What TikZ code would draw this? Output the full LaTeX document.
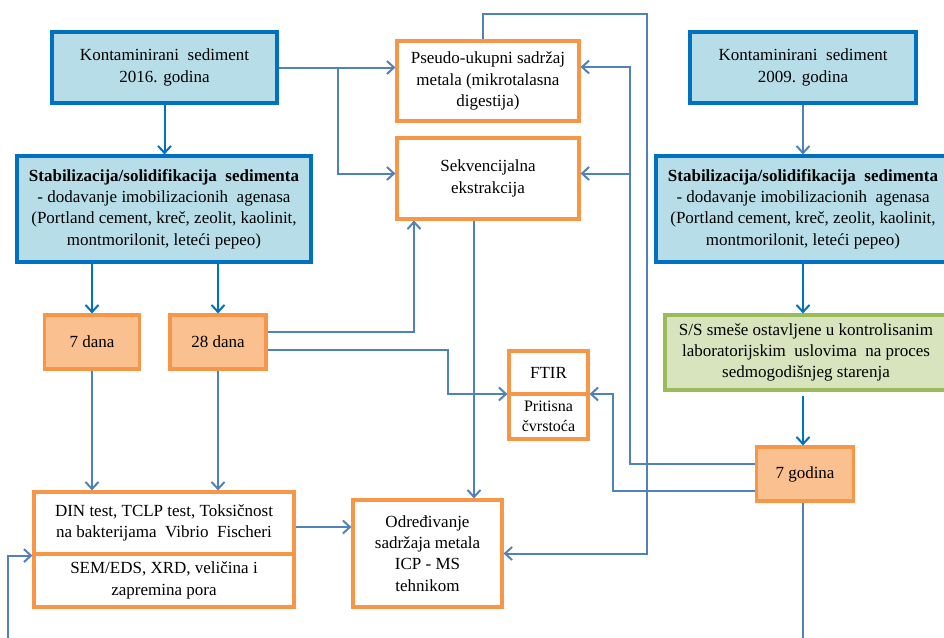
\documentclass[tikz,border=0pt]{standalone}
\usepackage{fontspec}
\setmainfont{Liberation Serif}
\usepackage{tikz}
\usetikzlibrary{arrows.meta}
\definecolor{dblue}{RGB}{0,112,192}
\definecolor{lblue}{RGB}{183,222,232}
\definecolor{dorange}{RGB}{247,150,70}
\definecolor{lorange}{RGB}{250,192,144}
\definecolor{dgreen}{RGB}{155,187,89}
\definecolor{lgreen}{RGB}{215,228,189}
\definecolor{lnblue}{RGB}{79,129,189}

\begin{document}
\begin{tikzpicture}[x=1pt, y=-1pt,
  every node/.style={align=center, inner sep=0pt, font=\fontsize{17}{21.3}\selectfont},
  bbox/.style={draw=dblue, fill=lblue, line width=3.2pt},
  obox/.style={draw=dorange, fill=lorange, line width=3.2pt},
  wbox/.style={draw=dorange, fill=white, line width=3.2pt},
  gbox/.style={draw=dgreen, fill=lgreen, line width=3.2pt},
  ln/.style={draw=lnblue, line width=2pt},
  lnk/.style={ln, -{Straight Barb[length=7pt,width=13pt]}},
  dlnk/.style={lnk, draw=dblue}]
\path[use as bounding box, clip] (0,0) rectangle (944,637);

\node[bbox, minimum width=225, minimum height=71] (ks1) at (164.5,67.5) {Kontaminirani\ \ sediment\\2016. godina};
\node[bbox, minimum width=294, minimum height=106] (stab1) at (164,209) {\textbf{Stabilizacija/solidifikacija\ \ sedimenta}\\- dodavanje imobilizacionih\ \ agenasa\\(Portland cement, kreč, zeolit, kaolinit,\\montmorilonit, leteći pepeo)};
\node[bbox, minimum width=226, minimum height=71] (ks2) at (803,67.5) {Kontaminirani\ \ sediment\\2009. godina};
\node[bbox, minimum width=294, minimum height=106] (stab2) at (803,209) {\textbf{Stabilizacija/solidifikacija\ \ sedimenta}\\- dodavanje imobilizacionih\ \ agenasa\\(Portland cement, kreč, zeolit, kaolinit,\\montmorilonit, leteći pepeo)};
\node[obox, minimum width=95, minimum height=54] (dan7) at (92,342) {7 dana};
\node[obox, minimum width=96, minimum height=54] (dan28) at (218,342) {28 dana};
\node[wbox, minimum width=260, minimum height=62] (din) at (164,523) {DIN test, TCLP test, Toksičnost\\na bakterijama\ \ Vibrio\ \ Fischeri};
\node[wbox, minimum width=260, minimum height=53] (sem) at (164,580.5) {SEM/EDS, XRD, veličina i\\zapremina pora};
\node[wbox, minimum width=149, minimum height=107] (odr) at (427.5,553.5) {Određivanje\\sadržaja metala\\ICP - MS\\tehnikom};
\node[wbox, minimum width=182, minimum height=80] (pu) at (488,81) {Pseudo-ukupni sadržaj\\metala (mikrotalasna\\digestija)};
\node[wbox, minimum width=182, minimum height=81] (se) at (488,178.5) {Sekvencijalna\\ekstrakcija};
\node[wbox, minimum width=79, minimum height=43] (ftir) at (548.5,372.5) {FTIR};
\node[wbox, minimum width=79, minimum height=45, font=\fontsize{16}{20}\selectfont] (prit) at (548.5,416.5) {Pritisna\\čvrstoća};
\node[gbox, minimum width=282, minimum height=75] (ss) at (806,352.5) {S/S smeše ostavljene u kontrolisanim\\laboratorijskim\ \ uslovima\ \ na proces\\sedmogodišnjeg starenja};
\node[obox, minimum width=97, minimum height=54] (g7) at (805,474) {7 godina};

\coordinate (t1) at (647,14);
\coordinate (t2) at (630,67);
\coordinate (t3) at (613,394);
\coordinate (t4) at (448,394);
\coordinate (t5) at (8,640);
\coordinate (t6) at (803,640);

\draw[dlnk] (ks1.south) -- (ks1.south |- stab1.north);
\draw[dlnk] (stab1.south -| dan7.north) -- (dan7.north);
\draw[dlnk] (stab1.south -| dan28.north) -- (dan28.north);
\draw[lnk] (dan7.south) -- (dan7.south |- din.north);
\draw[lnk] (dan28.south) -- (dan28.south |- din.north);
\draw[lnk] (ks1.east) -- (ks1.east -| pu.west);
\draw[lnk] ([xshift=59pt]ks1.east) |- ([yshift=5pt]se.west);
\draw[lnk] ([xshift=-5pt]pu.north) |- (t1) |- (odr.east);
\draw[lnk] ([xshift=-14pt]se.south) -- ([xshift=-14pt]se.south |- odr.north);
\draw[lnk] ([yshift=10pt]dan28.east) -| ([xshift=-74pt]se.south);
\draw[lnk] ([yshift=-8pt]dan28.east) -| (t4) -- (t4 -| ftir.west);
\draw[lnk] ([yshift=-4pt]din.east) -- ([yshift=-4pt]din.east -| odr.west);
\draw[lnk] (t5) |- (din.south west);
\draw[lnk] ([yshift=10pt]g7.west) -| (t2) -- (t2 -| pu.east);
\draw[lnk] ([yshift=5pt]se.east -| t2) -- ([yshift=5pt]se.east);
\draw[lnk] ([yshift=-17pt]g7.west) -| (t3) -- (t3 -| ftir.east);
\draw[lnk] (ks2.south) -- (ks2.south |- stab2.north);
\draw[dlnk] (stab2.south) -- (stab2.south |- ss.north);
\draw[dlnk] ([yshift=-4pt]ss.south -| t6) -- (g7.north -| t6);
\draw[ln] (g7.south -| t6) -- (t6);
\end{tikzpicture}
\end{document}
